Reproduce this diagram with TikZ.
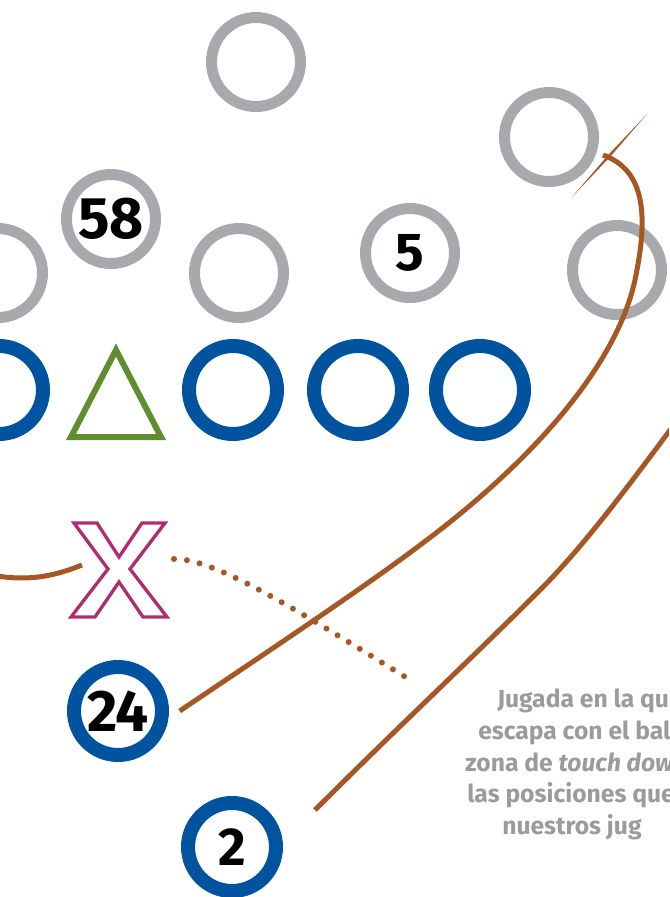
\documentclass[tikz,border=0pt]{standalone}
\usepackage{fontspec}
\usepackage{xcolor}
\setsansfont{Fira Sans}
\usetikzlibrary{positioning}
\definecolor{playGray}{RGB}{167,169,172}
\definecolor{noteGray}{RGB}{153,155,158}
\definecolor{playBlue}{RGB}{0,84,159}
\definecolor{playGreen}{RGB}{96,142,46}
\definecolor{playMagenta}{RGB}{176,44,110}
\definecolor{playBrown}{RGB}{166,88,36}

\begin{document}
\begin{tikzpicture}[x=0.75pt, y=-0.75pt,
      rival/.style={circle, draw=playGray, line width=8.25pt, minimum size=66.75pt, inner sep=0pt},
      mate/.style={circle, draw=playBlue, line width=10.5pt, minimum size=66pt, inner sep=0pt},
      bignum/.style={font=\sffamily\bfseries\fontsize{44}{44}\selectfont},
      smallnum/.style={font=\sffamily\bfseries\fontsize{40}{40}\selectfont},
      route/.style={draw=playBrown, line width=3.75pt},
      note/.style={anchor=base west, inner sep=0pt, text=noteGray, font=\sffamily\bfseries\fontsize{18.5}{22}\selectfont}
    ]
    \useasboundingbox (0,0) rectangle (669,897);
    \clip (0,0) rectangle (669,897);

    \node[rival] (top) at (256,62) {};
    \node[rival] (deep) at (549,137) {};
    \node[rival, bignum] (d58) at (111,219) {58};
    \node[rival] (left) at (-2,273) {};
    \node[rival] (mid) at (239,273) {};
    \node[rival, smallnum] (d5) at (410,253) {5};
    \node[rival] (right) at (617,270) {};

    \node[mate] (m1) at (-1,390) {};
    \node[mate] (m2) at (233,390) {};
    \node[mate] (m3) at (358,390) {};
    \node[mate] (m4) at (480,390) {};
    \node[mate, bignum] (m24) at (118,711) {24};
    \node[mate, smallnum] (m2b) at (232,847) {2};

    \draw[draw=playGreen, line width=4.5pt, line join=miter] (116,350) -- (161,437) -- (71,437) -- cycle;
    \draw[draw=playMagenta, line width=2.5pt, line join=miter] (74,523) -- (97,523) -- (119,557) -- (142,523) -- (165,523) -- (130,569) -- (167,617) -- (143,617) -- (119,582) -- (95,617) -- (71,617) -- (108,569) -- cycle;

    \coordinate (tipA) at (603,155);
    \coordinate (endB) at (700,390);
    \coordinate (startC) at (-10,575);
    \coordinate (endC) at (82,565);
    \coordinate (startD) at (174,559);
    \coordinate (endD) at (407,678);

    \fill[playBrown] (572,197) -- (608.5,154.6) -- (647,114) -- (610.5,156.4) -- cycle;
    \draw[route] ([xshift=8pt]m24.east) .. controls (300,630) and (390,570) .. (450,522)
      .. controls (540,450) and (620,360) .. (636,275)
      .. controls (648,215) and (645,170) .. (tipA);
    \draw[route] ([shift={(83,-37)}]m2b.center) .. controls (400,725) and (470,660) .. (540,590)
      .. controls (590,540) and (640,470) .. (endB);
    \draw[route] (startC) .. controls (20,580) and (45,580) .. (endC);
    \draw[draw=playBrown, line width=4.5pt, line cap=round, dash pattern=on 0pt off 9.75pt]
      (startD) .. controls (215,558) and (300,612) .. (endD);

    \node[note] (l1) at (497,707) {Jugada en la qu};
    \node[note] (l2) at (478,739) {escapa con el bal};
    \node[note] (l3) at (465,771) {zona de \textit{touch dow}};
    \node[note] (l4) at (467,802) {las posiciones que};
    \node[note] (l5) at (502,834) {nuestros jug};
  \end{tikzpicture}
\end{document}
